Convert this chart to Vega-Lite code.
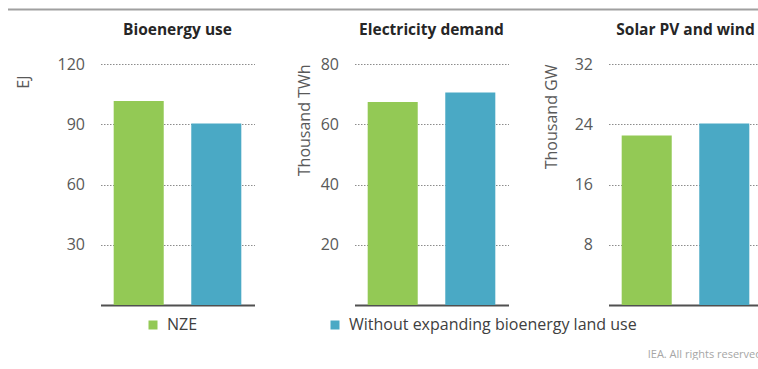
{
  "$schema": "https://vega.github.io/schema/vega-lite/v6.json",
  "background": "white",
  "padding": {"left": 7, "top": 8, "right": 0, "bottom": 0},
  "data": {"values": [
    {"panel": "Bioenergy use", "scenario": "NZE", "value": 101.6},
    {"panel": "Bioenergy use", "scenario": "Without expanding bioenergy land use", "value": 90.4},
    {"panel": "Electricity demand", "scenario": "NZE", "value": 67.4},
    {"panel": "Electricity demand", "scenario": "Without expanding bioenergy land use", "value": 70.5},
    {"panel": "Solar PV and wind", "scenario": "NZE", "value": 22.5},
    {"panel": "Solar PV and wind", "scenario": "Without expanding bioenergy land use", "value": 24.1}
  ]},
  "title": {"text": "IEA. All rights reserved", "orient": "bottom", "anchor": "end", "dx": -93, "fontSize": 11, "fontWeight": "normal", "color": "#a6a6a6", "font": "Open Sans", "offset": 16},
  "spacing": 11,
  "center": true,
  "vconcat": [
    {
      "width": 846,
      "height": 1,
      "data": {"values": [{"line": 0}]},
      "mark": {"type": "rule", "color": "#a0a0a0", "strokeWidth": 2},
      "encoding": {"y": {"field": "line", "type": "quantitative", "axis": null}}
    },
    {
      "spacing": 100,
      "bounds": "flush",
      "hconcat": [
        {
          "width": 154, "height": 241,
          "title": "Bioenergy use",
          "transform": [{"filter": "datum.panel === 'Bioenergy use'"}],
          "mark": {"type": "bar"},
          "encoding": {
            "x": {"field": "scenario", "type": "nominal", "sort": ["NZE", "Without expanding bioenergy land use"], "scale": {"paddingInner": 0.355, "paddingOuter": 0.17}, "axis": {"title": null, "labels": false, "ticks": false, "grid": false, "domainColor": "#505050", "domainWidth": 2}},
            "y": {"field": "value", "type": "quantitative", "scale": {"domain": [0, 120], "nice": false}, "axis": {"values": [30, 60, 90, 120], "title": "EJ", "titlePadding": 26, "titleY": 11}},
            "color": {"field": "scenario", "type": "nominal", "scale": {"domain": ["NZE", "Without expanding bioenergy land use"], "range": ["#93c955", "#4aa9c5"]}, "legend": {"orient": "none", "legendX": 137, "legendY": 308, "direction": "horizontal", "title": null}}
          }
        },
        {
          "width": 154, "height": 241,
          "title": "Electricity demand",
          "transform": [{"filter": "datum.panel === 'Electricity demand'"}],
          "mark": {"type": "bar"},
          "encoding": {
            "x": {"field": "scenario", "type": "nominal", "sort": ["NZE", "Without expanding bioenergy land use"], "scale": {"paddingInner": 0.355, "paddingOuter": 0.17}, "axis": {"title": null, "labels": false, "ticks": false, "grid": false, "domainColor": "#505050", "domainWidth": 2}},
            "y": {"field": "value", "type": "quantitative", "scale": {"domain": [0, 80], "nice": false}, "axis": {"values": [20, 40, 60, 80], "title": "Thousand TWh", "titlePadding": 8}},
            "color": {"field": "scenario", "type": "nominal", "scale": {"domain": ["NZE", "Without expanding bioenergy land use"], "range": ["#93c955", "#4aa9c5"]}, "legend": {"orient": "none", "legendX": 137, "legendY": 308, "direction": "horizontal", "title": null}}
          }
        },
        {
          "width": 154, "height": 241,
          "title": "Solar PV and wind",
          "transform": [{"filter": "datum.panel === 'Solar PV and wind'"}],
          "mark": {"type": "bar"},
          "encoding": {
            "x": {"field": "scenario", "type": "nominal", "sort": ["NZE", "Without expanding bioenergy land use"], "scale": {"paddingInner": 0.355, "paddingOuter": 0.17}, "axis": {"title": null, "labels": false, "ticks": false, "grid": false, "domainColor": "#505050", "domainWidth": 2}},
            "y": {"field": "value", "type": "quantitative", "scale": {"domain": [0, 32], "nice": false}, "axis": {"values": [8, 16, 24, 32], "title": "Thousand GW", "titlePadding": 15}},
            "color": {"field": "scenario", "type": "nominal", "scale": {"domain": ["NZE", "Without expanding bioenergy land use"], "range": ["#93c955", "#4aa9c5"]}, "legend": {"orient": "none", "legendX": 137, "legendY": 308, "direction": "horizontal", "title": null}}
          }
        }
      ]
    }
  ],
  "config": {
    "font": "Open Sans",
    "view": {"stroke": null},
    "title": {"fontSize": 15.5, "fontWeight": "bold", "color": "#262626", "offset": 18, "anchor": "middle"},
    "axisY": {"domain": false, "ticks": false, "labelFontSize": 16, "labelColor": "#595959", "labelPadding": 16, "gridColor": "#8c8c8c", "gridDash": [1.5, 1.5], "gridWidth": 1, "titleFontSize": 16, "titleFontWeight": "normal", "titleColor": "#595959", "titleAnchor": "end"},
    "legend": {"symbolType": "square", "symbolSize": 81, "symbolStrokeWidth": 0, "labelFontSize": 16, "labelColor": "#404040", "labelOffset": 6, "columnPadding": 129, "labelLimit": 400}
  }
}
